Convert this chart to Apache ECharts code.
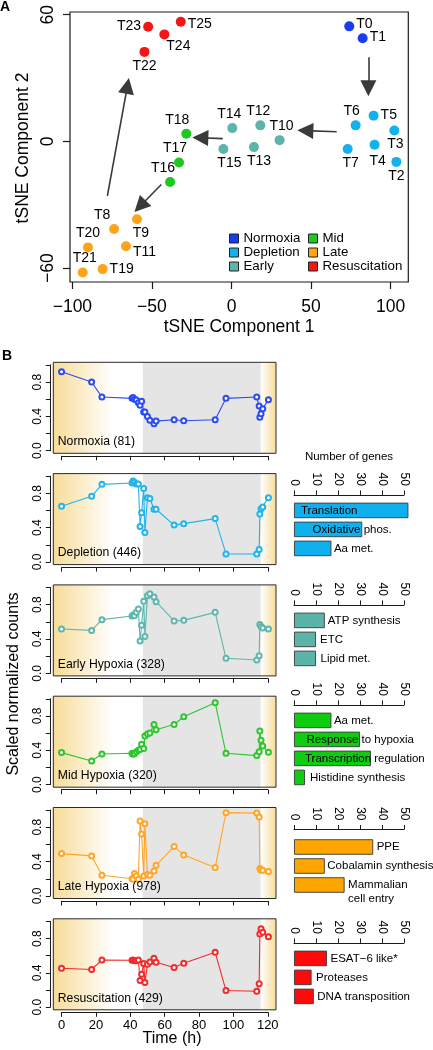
<!DOCTYPE html>
<html><head><meta charset="utf-8">
<script src="https://cdn.jsdelivr.net/npm/echarts@6/dist/echarts.min.js"></script>
<style>html,body{margin:0;padding:0;background:#fff}#c{width:433px;height:1050px}</style>
</head><body><div id="c"></div>
<script>
// ================= DATA: panel A (tSNE) =================
const sampleNames = ['T0','T1','T2','T3','T4','T5','T6','T7','T8','T9','T10','T11','T12','T13','T14','T15','T16','T17','T18','T19','T20','T21','T22','T23','T24','T25'];
const tsneX = [74.0, 82.4, 103.6, 102.3, 89.9, 89.3, 78.0, 73.0, -73.8, -59.4, 30.2, -66.3, 18.1, 14.1, 0.5, -5.1, -38.6, -33.0, -28.4, -81.0, -90.2, -93.5, -54.7, -52.4, -42.2, -31.9];
const tsneY = [54.5, 48.9, -9.7, 5.2, -1.6, 12.2, 7.6, -3.6, -41.5, -36.9, 0.6, -49.7, 7.6, -2.7, 6.3, -3.6, -19.2, -10.0, 3.6, -60.5, -50.2, -62.1, 42.4, 54.3, 50.7, 56.7];
const sampleGroup = ['Normoxia','Normoxia','Depletion','Depletion','Depletion','Depletion','Depletion','Depletion','Late','Late','Early','Late','Early','Early','Early','Early','Mid','Mid','Mid','Late','Late','Late','Resuscitation','Resuscitation','Resuscitation','Resuscitation'];
const groupNames = ['Normoxia','Depletion','Early','Mid','Late','Resuscitation'];
const arrowFrom = [[86.0, 39.9], [66.1, 4.6], [-5.5, 1.3], [-44.1, -20.4], [-78.0, -25.8]];
const arrowTo   = [[86.0, 25.2], [46.4, 5.1], [-19.6, 1.7], [-57.5, -30.7], [-65.4, 26.3]];
const tsneXTickRange = [-100, 100];
const tsneYTickRange = [-60, 60];

// ================= DATA: panel B (time courses) =================
const timeH = [0, 17.5, 23.5, 41.0, 41.6, 42.4, 43.5, 44.7, 45.7, 46.6, 47.8, 48.5, 50.0, 51.4, 53.8, 55.0, 65.5, 71.1, 89.4, 95.7, 113.6, 115.0, 115.4, 116.1, 117.1, 120.4];
const normoxiaCounts = [0.92, 0.80, 0.625, 0.61, 0.62, 0.60, 0.59, 0.56, 0.53, 0.575, 0.45, 0.45, 0.40, 0.355, 0.315, 0.345, 0.36, 0.35, 0.36, 0.61, 0.625, 0.52, 0.39, 0.43, 0.49, 0.595];
const depletionCounts = [0.65, 0.765, 0.905, 0.92, 0.945, 0.93, 0.91, 0.91, 0.415, 0.575, 0.855, 0.345, 0.75, 0.74, 0.615, 0.615, 0.43, 0.447, 0.506, 0.094, 0.094, 0.145, 0.56, 0.62, 0.64, 0.75];
const earlyCounts = [0.517, 0.50, 0.625, 0.668, 0.68, 0.67, 0.71, 0.75, 0.377, 0.56, 0.84, 0.43, 0.905, 0.928, 0.89, 0.835, 0.61, 0.617, 0.71, 0.175, 0.155, 0.206, 0.57, 0.544, 0.528, 0.517];
const midCounts = [0.373, 0.276, 0.357, 0.365, 0.353, 0.36, 0.384, 0.40, 0.41, 0.47, 0.42, 0.567, 0.59, 0.60, 0.70, 0.64, 0.70, 0.79, 0.955, 0.365, 0.338, 0.384, 0.625, 0.516, 0.45, 0.377];
const lateCounts = [0.493, 0.466, 0.24, 0.20, 0.195, 0.26, 0.233, 0.195, 0.874, 0.72, 0.233, 0.84, 0.25, 0.24, 0.29, 0.357, 0.575, 0.478, 0.33, 0.97, 0.965, 0.92, 0.318, 0.30, 0.30, 0.284];
const resusCounts = [0.454, 0.44, 0.55, 0.548, 0.55, 0.54, 0.54, 0.55, 0.31, 0.385, 0.51, 0.287, 0.50, 0.528, 0.57, 0.524, 0.462, 0.513, 0.64, 0.194, 0.186, 0.272, 0.854, 0.913, 0.874, 0.82];
const panelNames = ['Normoxia', 'Depletion', 'Early Hypoxia', 'Mid Hypoxia', 'Late Hypoxia', 'Resuscitation'];
const panelGeneCounts = [81, 446, 328, 320, 978, 429];
const hypoxiaStartH = 47.3;
const reaerationStartH = 116;
const timeTickRange = [0, 120];
const timeTickStep = 20;
const countTickRange = [0, 1];
const countTickStep = 0.2;

// ================= DATA: panel B (gene-category bars) =================
const depletionTerms = ['Translation', 'Oxidative phos.', 'Aa met.'];
const depletionGenes = [52, 31, 17];
const earlyTerms = ['ATP synthesis', 'ETC', 'Lipid met.'];
const earlyGenes = [14, 10, 10];
const midTerms = ['Aa met.', 'Response to hypoxia', 'Transcription regulation', 'Histidine synthesis'];
const midGenes = [17, 30, 35, 5];
const lateTerms = ['PPE', 'Cobalamin synthesis', 'Mammalian\ncell entry'];
const lateGenes = [36, 14, 23];
const resusTerms = ['ESAT\u22126 like*', 'Proteases', 'DNA transposition'];
const resusGenes = [15, 8, 9];
const genesTickRange = [0, 50];
const genesTickStep = 10;

// ================= STYLE / LAYOUT =================
const FONT = '"Liberation Sans", Arial, Helvetica, sans-serif';
const groupColors = {Normoxia:'#1a3cf0', Depletion:'#12b2ee', Early:'#5db4aa', Mid:'#1ec81e', Late:'#ffa31a', Resuscitation:'#f21616'};
const panelColors = ['#2b4cf2', '#22b4ea', '#5fb6ad', '#2ec62e', '#ffa629', '#f02c2c'];
const barColors = [null, '#10b0ee', '#5cb3a8', '#10cc10', '#ffa500', '#ff0a0a'];
const ptLabel = {
  T0:['right',0,-2], T1:['right',0,-1], T2:['bottom',0,0], T3:['bottom',1,0], T4:['bottom',3,2],
  T5:['right',0,-1], T6:['top',-4,0], T7:['bottom',3,0], T8:['top',-12,0], T9:['bottom',4,0],
  T10:['top',2,0], T11:['right',0,6], T12:['top',-2,0], T13:['bottom',5,0], T14:['top',-3,0],
  T15:['bottom',6,0], T16:['top',-7,0], T17:['top',-4,0], T18:['top',-9,0], T19:['right',0,0],
  T20:['top',0,0], T21:['top',2,0], T22:['bottom',0,0], T23:['left',0,-1], T24:['bottom',14,-2], T25:['right',0,2]
};
const barLabelStyle = {
  'Translation': {position:'insideLeft', distance:7},
  'Oxidative phos.': {position:'insideLeft', distance:18.5},
  'Aa met.': {position:'right', distance:2.5},
  'ATP synthesis': {position:'right', distance:3},
  'ETC': {position:'right', distance:4},
  'Lipid met.': {position:'right', distance:4.5},
  'Response to hypoxia': {position:'insideLeft', distance:12.5},
  'Transcription regulation': {position:'insideLeft', distance:11},
  'Histidine synthesis': {position:'right', distance:5},
  'PPE': {position:'right', distance:3.5},
  'Cobalamin synthesis': {position:'right', distance:2.5},
  'Mammalian\ncell entry': {position:'right', distance:3.5, offset:[0,6.7], lineHeight:13.4},
  'ESAT\u22126 like*': {position:'right', distance:3.5},
  'Proteases': {position:'right', distance:4.5},
  'DNA transposition': {position:'right', distance:3.5}
};
const AX = '#1a1a1a';

const grids = [], xAxes = [], yAxes = [], series = [], graphics = [];
const addGrid = g => { grids.push(Object.assign({outerBoundsMode:'none', containLabel:false}, g)); return grids.length - 1; };
const addX = a => { xAxes.push(a); return xAxes.length - 1; };
const addY = a => { yAxes.push(a); return yAxes.length - 1; };
function tickGrid(box, xr, yr, xt, yt) {
  return {
    left: box.left + (xt[0] - xr[0]) / (xr[1] - xr[0]) * box.width,
    width: (xt[1] - xt[0]) / (xr[1] - xr[0]) * box.width,
    top: box.top + (yr[1] - yt[1]) / (yr[1] - yr[0]) * box.height,
    height: (yt[1] - yt[0]) / (yr[1] - yr[0]) * box.height
  };
}
const minus = v => String(v).replace('-', '\u2212');

// ---------- Panel A ----------
const boxA = {left:70, top:12, width:338.3, height:270};
const AXR = [-101.5, 111.1], AYR = [-66.6, 61.3];
const gA = addGrid(Object.assign({show:true, borderColor:AX, borderWidth:1.2, backgroundColor:'transparent', z:10}, boxA));
const xA = addX({gridIndex:gA, type:'value', min:AXR[0], max:AXR[1], show:false});
const yA = addY({gridIndex:gA, type:'value', min:AYR[0], max:AYR[1], show:false});
const tgA = tickGrid(boxA, AXR, AYR, tsneXTickRange, tsneYTickRange);
const gAt = addGrid(Object.assign({show:false}, tgA));
addX({gridIndex:gAt, type:'value', min:tsneXTickRange[0], max:tsneXTickRange[1], interval:50,
  offset:(boxA.top + boxA.height) - (tgA.top + tgA.height),
  axisLine:{show:false, onZero:false}, axisTick:{show:true, length:7, lineStyle:{color:AX, width:1.2}},
  axisLabel:{fontSize:17.5, margin:16.5, color:'#000', fontFamily:FONT, formatter:minus}, splitLine:{show:false}});
addY({gridIndex:gAt, type:'value', min:tsneYTickRange[0], max:tsneYTickRange[1], interval:60,
  offset:tgA.left - boxA.left,
  axisLine:{show:false, onZero:false}, axisTick:{show:true, length:7, lineStyle:{color:AX, width:1.2}},
  axisLabel:{fontSize:17.5, margin:13, rotate:90, color:'#000', fontFamily:FONT, formatter:minus}, splitLine:{show:false}});

series.push({type:'lines', coordinateSystem:'cartesian2d', xAxisIndex:xA, yAxisIndex:yA, silent:true, z:2,
  symbol:['none','triangle'], symbolSize:[12,16],
  lineStyle:{color:'#3a3a3a', width:1.6, opacity:1, curveness:0},
  data: arrowFrom.map((f, i) => ({coords:[f, arrowTo[i]]}))});
groupNames.forEach(g => {
  const data = [];
  sampleNames.forEach((n, i) => {
    if (sampleGroup[i] !== g) return;
    const p = ptLabel[n];
    data.push({name:n, value:[tsneX[i], tsneY[i]], label:{position:p[0], offset:[p[1], p[2]]}});
  });
  series.push({type:'scatter', name:g, xAxisIndex:xA, yAxisIndex:yA, symbolSize:10, z:4,
    itemStyle:{color:groupColors[g], opacity:1},
    label:{show:true, formatter:'{b}', fontSize:14, color:'#000', fontFamily:FONT, distance:2},
    data});
});

// ---------- Panel B line panels ----------
const panelCounts = [normoxiaCounts, depletionCounts, earlyCounts, midCounts, lateCounts, resusCounts];
const BXR = [-4.8, 124.8], BYR = [-0.03, 1.03];
for (let i = 0; i < 6; i++) {
  const box = {left:53.3, top:362.3 + i * 111.3, width:222.7, height:91};
  const gb = addGrid(Object.assign({show:true, borderColor:'#2a2a2a', borderWidth:1, backgroundColor:'transparent', z:10}, box));
  const xb = addX({gridIndex:gb, type:'value', min:BXR[0], max:BXR[1], show:false});
  const yb = addY({gridIndex:gb, type:'value', min:BYR[0], max:BYR[1], show:false});
  const tg = tickGrid(box, BXR, BYR, timeTickRange, countTickRange);
  const gt = addGrid(Object.assign({show:false}, tg));
  addX({gridIndex:gt, type:'value', min:timeTickRange[0], max:timeTickRange[1], interval:timeTickStep,
    offset:(box.top + box.height + 2.5) - (tg.top + tg.height),
    axisLine:{show:true, onZero:false, lineStyle:{color:AX, width:1}}, axisTick:{show:true, length:4.5, lineStyle:{color:AX, width:1}},
    axisLabel:{show:i === 5, fontSize:13, margin:6.5, color:'#000', fontFamily:FONT}, splitLine:{show:false}});
  addY({gridIndex:gt, type:'value', min:countTickRange[0], max:countTickRange[1], interval:countTickStep,
    offset:tg.left - (box.left - 3),
    axisLine:{show:true, onZero:false, lineStyle:{color:AX, width:1}}, axisTick:{show:true, length:4.5, lineStyle:{color:AX, width:1}},
    axisLabel:{rotate:90, fontSize:12, margin:7, color:'#000', fontFamily:FONT,
      formatter:v => (Math.round(v * 10) % 4 === 0 ? v.toFixed(1) : '')}, splitLine:{show:false}});
  const yellow = '#f7dc9a';
  series.push({type:'line', xAxisIndex:xb, yAxisIndex:yb, data:[], z:1, silent:true,
    markArea:{silent:true, label:{show:false}, data:[
      [{xAxis:BXR[0], yAxis:BYR[0], itemStyle:{color:{type:'linear', x:0, y:0, x2:1, y2:0,
          colorStops:[{offset:0, color:yellow}, {offset:0.3, color:'#fbecc6'}, {offset:0.66, color:'#ffffff'}, {offset:1, color:'#ffffff'}]}, borderWidth:0}},
       {xAxis:hypoxiaStartH, yAxis:BYR[1]}],
      [{xAxis:hypoxiaStartH, yAxis:BYR[0], itemStyle:{color:'#e5e5e5', borderWidth:0}}, {xAxis:reaerationStartH, yAxis:BYR[1]}],
      [{xAxis:reaerationStartH, yAxis:BYR[0], itemStyle:{color:{type:'linear', x:0, y:0, x2:1, y2:0,
          colorStops:[{offset:0, color:'#ffffff'}, {offset:1, color:yellow}]}, borderWidth:0}},
       {xAxis:BXR[1], yAxis:BYR[1]}]
    ]}});
  series.push({type:'line', xAxisIndex:xb, yAxisIndex:yb, z:3, clip:false, silent:true,
    symbol:'emptyCircle', symbolSize:5, showAllSymbol:true,
    lineStyle:{color:panelColors[i], width:1.1},
    itemStyle:{color:panelColors[i], borderColor:panelColors[i], borderWidth:1.1},
    data:timeH.map((t, k) => [t, panelCounts[i][k]])});
  graphics.push({type:'text', z:100, x:box.left + 4.5, y:box.top + box.height - 11.5,
    style:{text:panelNames[i] + ' (' + panelGeneCounts[i] + ')', font:'12.2px ' + FONT, fill:'#000',
      align:'left', verticalAlign:'middle', textAlign:'left', textVerticalAlign:'middle'}});
}

// ---------- Panel B bar charts ----------
const barTerms = [null, depletionTerms, earlyTerms, midTerms, lateTerms, resusTerms];
const barGenes = [null, depletionGenes, earlyGenes, midGenes, lateGenes, resusGenes];
const barLayout = [null, {top:500.9, off:6}, {top:610.9, off:6}, {top:710.9, off:6}, {top:837.5, off:8}, {top:948.9, off:6}];
for (let p = 1; p < 6; p++) {
  const terms = barTerms[p];
  const gbar = addGrid({left:294, width:110, top:barLayout[p].top, height:terms.length * 19, show:false});
  const xbar = addX({gridIndex:gbar, type:'value', min:genesTickRange[0], max:genesTickRange[1], interval:genesTickStep,
    position:'top', offset:barLayout[p].off,
    axisLine:{show:true, onZero:false, lineStyle:{color:AX, width:1}}, axisTick:{show:true, length:4.5, lineStyle:{color:AX, width:1}},
    axisLabel:{rotate:90, fontSize:12, margin:9, color:'#000', fontFamily:FONT}, splitLine:{show:false}});
  const ybar = addY({gridIndex:gbar, type:'category', data:terms, inverse:true, show:false});
  series.push({type:'bar', xAxisIndex:xbar, yAxisIndex:ybar, clip:false, silent:true, z:3,
    barCategoryGap:'18.4%',
    itemStyle:{color:barColors[p], borderColor:'#3a3a3a', borderWidth:0.9},
    label:{show:true, formatter:'{b}', fontSize:11.5, color:'#000', fontFamily:FONT},
    data:barGenes[p].map((v, k) => ({value:v, label:Object.assign({}, barLabelStyle[terms[k]])}))});
}

// ---------- Titles / letters ----------
const txt = (text, x, y, size, opts) => graphics.push(Object.assign({type:'text', z:100, x, y,
  style:{text, font:(opts && opts.bold ? 'bold ' : '') + size + 'px ' + FONT, fill:'#000',
    align:'center', verticalAlign:'middle', textAlign:'center', textVerticalAlign:'middle'}},
  opts && opts.rot ? {rotation:opts.rot} : {}));
txt('A', 5, 7.5, 14, {bold:true});
txt('B', 7, 356, 14, {bold:true});
txt('tSNE Component 1', boxA.left + boxA.width / 2, 327, 17.5);
txt('tSNE Component 2', 23, boxA.top + boxA.height / 2 + 1, 17.5, {rot:Math.PI / 2});
txt('Scaled normalized counts', 13.5, 684, 16, {rot:Math.PI / 2});
txt('Time (h)', 172, 1039, 16);
txt('Number of genes', 349, 457, 11.5);

const legendCommon = {orient:'vertical', top:231.5, itemWidth:9, itemHeight:9, itemGap:0, padding:0, icon:'rect',
  selectedMode:false, itemStyle:{borderColor:'#222', borderWidth:1},
  textStyle:{fontSize:13.3, color:'#000', fontFamily:FONT, lineHeight:14}};

const chart = echarts.init(document.getElementById('c'), null, {renderer:'canvas'});
chart.setOption({
  animation:false,
  backgroundColor:'#fff',
  textStyle:{fontFamily:FONT},
  grid:grids, xAxis:xAxes, yAxis:yAxes, series,
  legend:[Object.assign({left:229, data:groupNames.slice(0, 3)}, legendCommon),
          Object.assign({left:308, data:groupNames.slice(3)}, legendCommon)],
  graphic:{elements:graphics}
});
</script></body></html>
